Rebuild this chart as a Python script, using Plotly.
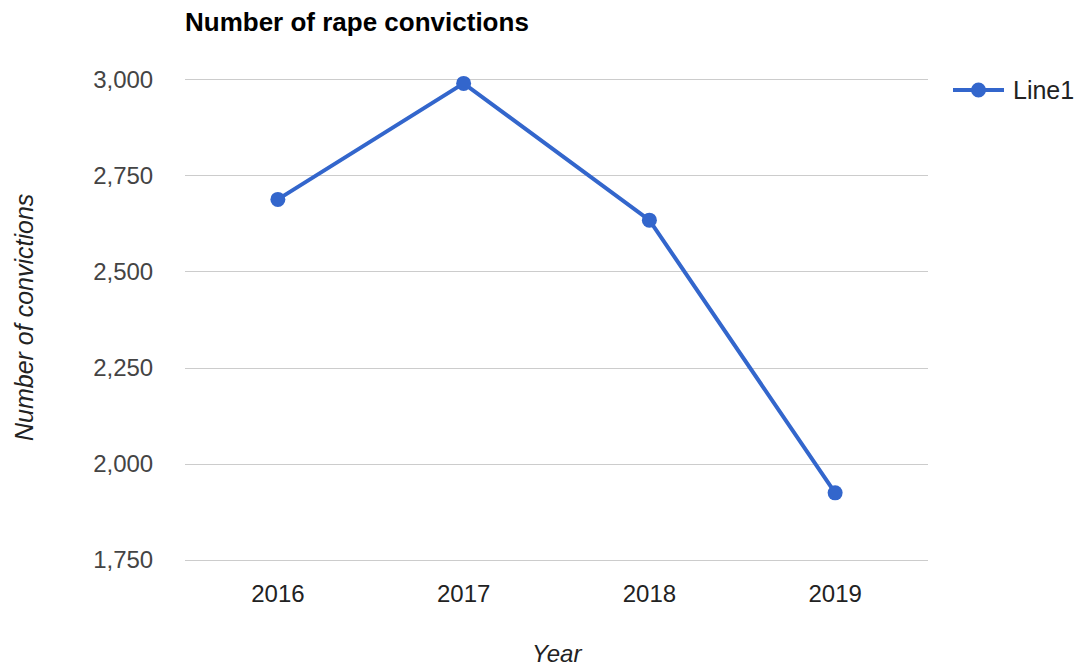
import plotly.graph_objects as go

# Convictions per year
years = ["2016", "2017", "2018", "2019"]
convictions = [2689, 2991, 2635, 1925]
series_name = "Line1"

y_ticks = [1750, 2000, 2250, 2500, 2750, 3000]
y_tick_text = ["1,750", "2,000", "2,250", "2,500", "2,750", "3,000"]

blue = "#3366cc"
font_family = "Arial, 'Liberation Sans', sans-serif"

W, H = 1083, 671
L, R, T, B = 185, 155, 78, 109
plot_w, plot_h = W - L - R, H - T - B


def px_x(x):
    """Paper x from a pixel column."""
    return (x - L) / plot_w


def px_y(y):
    """Paper y from a pixel row."""
    return 1 - (y - T) / plot_h


fig = go.Figure()
fig.add_trace(go.Scatter(
    x=years,
    y=convictions,
    mode="lines+markers",
    name=series_name,
    line=dict(color=blue, width=4),
    marker=dict(color=blue, size=15),
    cliponaxis=False,
    showlegend=False,
))

# Legend key drawn to the right of the plot: line, dot and series name
legend_y = px_y(90)
shapes = [
    dict(type="line", xref="paper", yref="paper",
         x0=px_x(953), x1=px_x(1004), y0=legend_y, y1=legend_y,
         line=dict(color=blue, width=4)),
    dict(type="circle", xref="paper", yref="paper",
         x0=px_x(971), x1=px_x(986), y0=px_y(82.5), y1=px_y(97.5),
         fillcolor=blue, line=dict(color=blue, width=0)),
]

fig.update_layout(
    width=W,
    height=H,
    margin=dict(l=L, r=R, t=T, b=B),
    paper_bgcolor="white",
    plot_bgcolor="white",
    font=dict(family=font_family, size=24, color="#444444"),
    title=dict(
        text="<b>Number of rape convictions</b>",
        x=L / W, xanchor="left",
        y=1 - 22 / H, yanchor="middle",
        font=dict(family=font_family, size=26, color="#000000"),
    ),
    showlegend=False,
    xaxis=dict(
        type="category",
        range=[-0.5, 3.5],
        showgrid=False,
        zeroline=False,
        showline=False,
        ticks="outside",
        ticklen=10,
        tickcolor="rgba(0,0,0,0)",
        tickfont=dict(size=24, color="#222222"),
    ),
    yaxis=dict(
        range=[1745, 3005],
        tickvals=y_ticks,
        ticktext=y_tick_text,
        showgrid=True,
        gridcolor="#cccccc",
        gridwidth=1,
        zeroline=False,
        showline=False,
        ticks="outside",
        ticklen=26,
        tickcolor="rgba(0,0,0,0)",
        tickfont=dict(size=24, color="#444444"),
    ),
    shapes=shapes,
    annotations=[
        dict(
            text="<i>Year</i>",
            xref="paper", yref="paper",
            x=0.5, y=px_y(653),
            xanchor="center", yanchor="middle",
            showarrow=False,
            font=dict(family=font_family, size=24, color="#222222"),
        ),
        dict(
            text="<i>Number of convictions</i>",
            xref="paper", yref="paper",
            x=px_x(24), y=px_y(318),
            xanchor="center", yanchor="middle",
            textangle=-90,
            showarrow=False,
            font=dict(family=font_family, size=25, color="#222222"),
        ),
        dict(
            text=series_name,
            xref="paper", yref="paper",
            x=px_x(1011), y=legend_y,
            xanchor="left", yanchor="middle",
            showarrow=False,
            font=dict(family=font_family, size=25, color="#222222"),
        ),
    ],
)

fig.write_html("out.html")
